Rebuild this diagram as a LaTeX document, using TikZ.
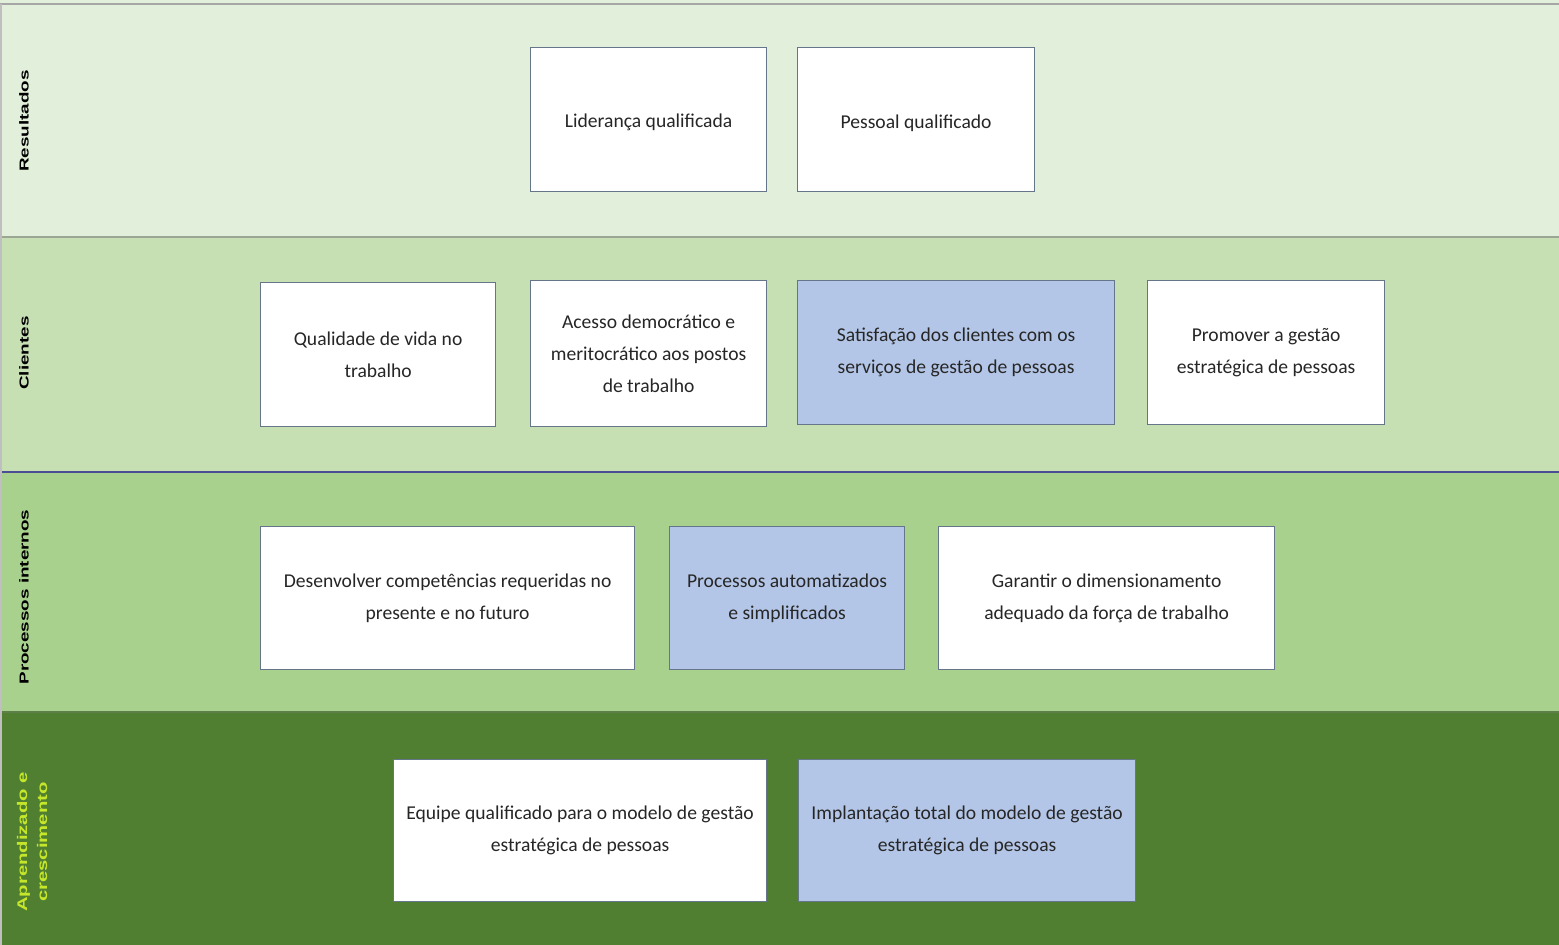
\documentclass[tikz,border=0pt]{standalone}
\usepackage{fontspec}
\setmainfont{Carlito}
\newfontfamily\lblfont{Liberation Sans}
\definecolor{bandA}{HTML}{E2EFDA}
\definecolor{bandB}{HTML}{C6E0B4}
\definecolor{bandC}{HTML}{A9D18E}
\definecolor{bandD}{HTML}{507F32}
\definecolor{boxblue}{HTML}{B4C6E7}
\definecolor{boxline}{HTML}{65768A}
\definecolor{lblyellow}{HTML}{C6E62A}
\definecolor{txtgray}{HTML}{262626}
\begin{document}
\begin{tikzpicture}[x=1pt,y=-1pt,
  obj/.style={draw=boxline, line width=1.2pt, fill=white, anchor=north west, inner sep=0pt,
    align=center, text=txtgray, font=\fontsize{19.6}{32}\selectfont,
    execute at begin node={\rule{0pt}{20pt}}},
  objblue/.style={obj, fill=boxblue},
  lane/.style={rotate=90, font=\lblfont\bfseries\fontsize{13}{16}\selectfont, text=black, align=center}
]
\useasboundingbox (0,0) rectangle (1559,945);
% bands
\fill[bandA] (0,0) rectangle (1559,237);
\fill[bandB] (0,237) rectangle (1559,472);
\fill[bandC] (0,472) rectangle (1559,712);
\fill[bandD] (0,712) rectangle (1559,945);
\draw[color=gray!70, line width=2pt] (0,4) -- (1559,4);
\draw[color=gray!60!bandB, line width=2pt] (0,237) -- (1559,237);
\draw[color=black!30!blue!40!gray, line width=2pt] (0,472) -- (1559,472);
\draw[color=bandD!70!gray, line width=2pt] (0,712) -- (1559,712);
\draw[color=gray!50, line width=2pt] (1,4) -- (1,945);

% lane labels
\node[lane] (lr) at (24,121) {\scalebox{1.45}[1]{Resultados}};
\node[lane] (lc) at (24,353) {\scalebox{1.45}[1]{Clientes}};
\node[lane] (lp) at (24,597) {\scalebox{1.45}[1]{Processos internos}};
\node[lane, text=lblyellow, font=\lblfont\bfseries\fontsize{14}{20}\selectfont] (la) at (32,842)
  {\scalebox{1.45}[1]{Aprendizado e}\\\scalebox{1.45}[1]{crescimento}};

% Resultados
\node[obj, minimum width=236pt, minimum height=144pt] (b1) at (530,47) {Liderança qualificada};
\node[obj, minimum width=237pt, minimum height=144pt] (b2) at (797,47) {Pessoal qualificado};
% Clientes
\node[obj, minimum width=235pt, minimum height=144pt] (c1) at (260,282) {Qualidade de vida no\\trabalho};
\node[obj, minimum width=236pt, minimum height=146pt] (c2) at (530,280) {Acesso democrático e\\meritocrático aos postos\\de trabalho};
\node[objblue, minimum width=317pt, minimum height=144pt] (c3) at (797,280) {Satisfação dos clientes com os\\serviços de gestão de pessoas};
\node[obj, minimum width=237pt, minimum height=144pt] (c4) at (1147,280) {Promover a gestão\\estratégica de pessoas};
% Processos internos
\node[obj, minimum width=374pt, minimum height=143pt] (p1) at (260,526) {Desenvolver competências requeridas no\\presente e no futuro};
\node[objblue, minimum width=235pt, minimum height=143pt] (p2) at (669,526) {Processos automatizados\\e simplificados};
\node[obj, minimum width=336pt, minimum height=143pt] (p3) at (938,526) {Garantir o dimensionamento\\adequado da força de trabalho};
% Aprendizado
\node[obj, minimum width=373pt, minimum height=142pt] (a1) at (393,759) {Equipe qualificado para o modelo de gestão\\estratégica de pessoas};
\node[objblue, minimum width=337pt, minimum height=142pt] (a2) at (798,759) {Implantação total do modelo de gestão\\estratégica de pessoas};
\end{tikzpicture}
\end{document}
